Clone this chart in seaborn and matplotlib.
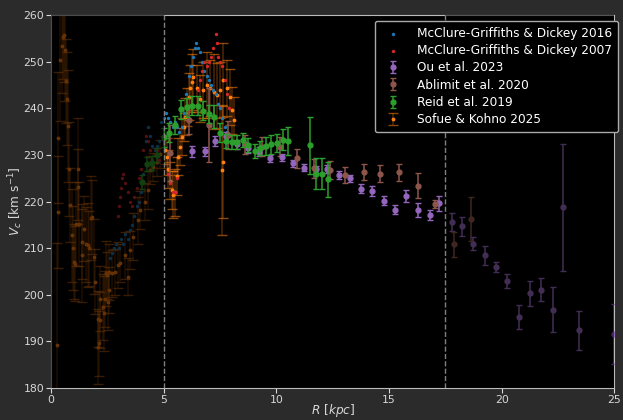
import numpy as np
import matplotlib
matplotlib.use("Agg")
import matplotlib.pyplot as plt
import seaborn as sns

# McClure-Griffiths & Dickey 2016 (terminal velocities)
mg16_r = [2.6, 2.7, 2.8, 2.9, 3.0, 3.1, 3.2, 3.3, 3.4, 3.5, 3.6, 3.7, 3.8, 3.9, 4.0,
          4.1, 4.2, 4.3, 4.4, 4.5, 4.6, 4.7, 4.8, 4.9, 5.0, 5.1, 5.2, 5.3, 5.4, 5.5,
          5.6, 5.7, 5.8, 5.9, 6.0, 6.1, 6.2, 6.3, 6.4, 6.45, 6.5, 6.6, 6.7, 6.8, 6.9,
          7.0, 7.1, 7.2, 7.3, 7.4, 7.5, 7.6, 7.7, 7.8, 7.9, 8.0]
mg16_v = [208, 209, 210, 211, 210, 212, 211, 213, 212, 214, 215, 217, 219, 220, 222,
          226, 233, 236, 234, 232, 231, 232, 233, 237, 238, 239, 238, 237, 236, 237,
          236, 235, 236, 239, 243, 247, 249, 251, 253, 254, 253, 252, 250, 248, 247,
          246, 245, 244, 243, 241, 240, 238, 236, 235, 234, 233]

# McClure-Griffiths & Dickey 2007
mg07_r = [2.95, 3.0, 3.05, 3.1, 3.15, 3.2, 3.3, 3.4, 3.5, 3.6, 3.7, 3.8, 3.9, 4.0,
          4.1, 4.2, 4.3, 4.4, 4.5, 4.6, 4.7, 4.8, 5.2, 5.3, 5.4, 5.5, 5.6, 6.5, 6.6,
          6.7, 6.8, 6.9, 7.0, 7.1, 7.2, 7.3, 7.35, 7.4, 7.5, 7.6, 7.7, 7.8, 7.9]
mg07_v = [217, 219, 221, 223, 225, 226, 224, 222, 220, 219, 221, 223, 225, 227,
          231, 234, 233, 231, 229, 230, 231, 229, 226, 224, 222, 222, 225, 244, 246,
          248, 250, 249, 250, 251, 253, 256, 254, 251, 250, 249, 246, 243, 240]

# Ou et al. 2023
ou_r = [6.26, 6.84, 7.28, 7.78, 8.26, 8.72, 9.24, 9.72, 10.24, 10.73, 11.23, 11.74,
        12.24, 12.76, 13.25, 13.75, 14.24, 14.76, 15.25, 15.74, 16.27, 16.8, 17.23,
        17.79, 18.26, 18.75, 19.24, 19.75, 20.23, 20.75, 21.24, 21.74, 22.3, 22.74,
        23.43, 25.0]
ou_v = [230.8, 230.8, 233.0, 234.0, 232.3, 231.4, 230.7, 229.3, 229.5, 228.2, 227.3,
        226.9, 227.0, 225.7, 225.0, 222.8, 222.3, 220.2, 218.3, 221.2, 218.3, 217.1,
        219.6, 215.6, 214.7, 211.0, 208.5, 206.0, 203.0, 195.2, 200.3, 201.1, 196.8,
        218.8, 192.4, 191.6]
ou_err = [1.2, 1.0, 1.0, 1.0, 1.0, 1.0, 1.0, 0.8, 0.8, 0.8, 0.8, 0.8, 0.8, 0.8,
          0.8, 0.9, 1.0, 0.9, 1.0, 1.3, 1.5, 1.0, 1.7, 2.0, 2.0, 1.3, 2.0, 1.0,
          1.5, 2.6, 2.7, 2.5, 4.8, 13.6, 4.2, 6.4]

# Ablimit et al. 2020
ab_r = [5.3, 6.1, 7.0, 7.87, 8.61, 9.36, 10.14, 10.91, 11.69, 12.36, 13.06, 13.9,
        14.62, 15.44, 16.28, 17.05, 17.9, 18.65]
ab_v = [230.5, 237.6, 236.4, 234.3, 232.3, 231.8, 231.8, 229.3, 227.1, 226.8, 225.7,
        226.4, 226.0, 226.3, 223.4, 219.5, 210.8, 216.2]
ab_err = [6.0, 3.0, 8.0, 3.0, 2.0, 2.0, 2.0, 2.0, 2.0, 2.0, 1.8, 1.7, 1.8, 1.8,
          2.7, 0.8, 2.7, 4.7]

# Reid et al. 2019
reid_r = [4.03, 4.25, 4.47, 4.69, 5.02, 5.25, 5.51, 5.76, 6.03, 6.27, 6.51, 6.76,
          7.03, 7.25, 7.5, 7.77, 8.02, 8.27, 8.51, 8.76, 9.03, 9.28, 9.53, 9.77,
          10.02, 10.29, 10.51, 11.5, 11.75, 12.02, 12.27]
reid_v = [224.1, 228.0, 228.2, 230.0, 233.8, 234.8, 236.4, 239.8, 240.2, 240.6, 240.6,
          239.5, 238.8, 238.2, 234.8, 233.0, 232.8, 232.8, 233.3, 232.1, 230.9, 231.6,
          231.9, 232.3, 232.6, 233.3, 233.0, 232.1, 226.0, 226.0, 224.8]
reid_err = [1.5, 1.5, 1.5, 1.5, 2.0, 2.0, 2.0, 2.0, 2.0, 2.0, 2.0, 2.0, 2.0, 2.5,
            2.0, 1.5, 1.5, 1.5, 1.5, 1.5, 1.5, 1.5, 2.0, 2.0, 2.0, 2.3, 3.1, 6.1,
            3.3, 3.3, 3.75]

# Sofue & Kohno 2025
sk_r = [0.27, 0.30, 0.30, 0.41, 0.47, 0.52, 0.56, 0.62, 0.67, 0.71, 0.77, 0.81, 0.86,
        0.92, 0.96, 1.01, 1.04, 1.11, 1.18, 1.21, 1.26, 1.36, 1.38, 1.48, 1.55, 1.63,
        1.70, 1.78, 1.82, 1.90, 1.97, 2.07, 2.07, 2.12, 2.19, 2.19, 2.29, 2.37, 2.40,
        2.44, 2.47, 2.52, 2.55, 2.59, 2.69, 2.84, 2.99, 3.06, 3.29, 3.43, 3.51, 3.65,
        3.88, 3.95, 4.17, 4.32, 4.40, 4.54, 4.69, 4.84, 5.06, 5.14, 5.21, 5.28, 5.36,
        5.43, 5.51, 5.58, 5.65, 5.73, 5.80, 5.88, 5.95, 6.03, 6.10, 6.17, 6.25, 6.32,
        6.47, 6.62, 6.76, 6.91, 7.06, 7.21, 7.36, 7.50, 7.58, 7.65, 7.65, 7.80, 7.95,
        8.02, 8.10]
sk_v = [189.2, 233.7, 217.8, 250.3, 253.4, 255.4, 255.7, 252.6, 245.9, 242.1, 236.3,
        227.0, 219.3, 212.8, 210.0, 207.1, 206.7, 215.1, 227.0, 223.2, 215.1, 211.4,
        208.5, 214.2, 210.8, 210.7, 210.0, 216.4, 216.7, 208.2, 202.8, 194.9, 188.9,
        189.6, 199.2, 194.6, 197.4, 196.0, 199.1, 204.6, 204.2, 198.4, 201.0, 205.0,
        204.6, 204.9, 206.4, 206.8, 208.5, 203.9, 209.6, 212.5, 216.0, 218.2, 220.0,
        222.5, 226.8, 227.5, 228.5, 230.3, 231.0, 229.6, 227.0, 224.5, 222.5, 221.5,
        222.0, 225.5, 229.6, 231.8, 233.9, 236.0, 238.2, 240.3, 242.5, 244.3, 245.7,
        246.8, 244.3, 242.1, 243.9, 245.0, 244.3, 243.6, 242.8, 243.9, 226.8, 228.5,
        246.1, 244.3, 242.5, 239.6, 237.5]
sk_err = [22, 14, 12, 13, 10, 9, 10, 11, 9, 10, 12, 10, 8, 10, 9, 8, 8, 9, 11, 8, 9,
          8, 10, 7, 8, 9, 8, 9, 8, 8, 7, 6, 8, 7, 7, 6, 7, 8, 6, 7, 5, 6, 5, 6, 5, 5,
          5, 4, 5, 4, 4, 5, 5, 4, 4, 4, 3, 3, 3, 3, 3, 4, 4, 4, 4, 5, 5, 4, 4, 4, 4,
          3, 4, 4, 5, 5, 6, 6, 5, 5, 6, 7, 6, 8, 7, 6, 14, 12, 8, 6, 6, 5, 5]

fig_bg = "#2b2b2b"
fg = "#d8d8d8"

plt.style.use("dark_background")
fig = plt.figure(figsize=(6.23, 4.2), dpi=100, facecolor=fig_bg)
ax = fig.add_axes([0.082, 0.076, 0.904, 0.888])
ax.set_facecolor("black")

# Sofue & Kohno (underneath everything)
sk = ax.errorbar(sk_r, sk_v, yerr=sk_err, fmt=".", color="tab:orange", ms=3.5,
                 ecolor="tab:orange", elinewidth=1.1, capsize=3.5, zorder=2,
                 label="Sofue & Kohno 2025")
for c in sk[1]:
    c.set_alpha(0.55)
for c in sk[2]:
    c.set_alpha(0.3)

sns.scatterplot(x=mg16_r, y=mg16_v, ax=ax, color="tab:blue", s=6, linewidth=0,
                zorder=3, label="McClure-Griffiths & Dickey 2016")
sns.scatterplot(x=mg07_r, y=mg07_v, ax=ax, color="tab:red", s=6, linewidth=0,
                zorder=3, label="McClure-Griffiths & Dickey 2007")

ax.errorbar(ou_r, ou_v, yerr=ou_err, fmt="o", color="tab:purple", ms=3.5,
            capsize=2.5, elinewidth=1.1, zorder=4, label="Ou et al. 2023")
ax.errorbar(ab_r, ab_v, yerr=ab_err, fmt="o", color="tab:brown", ms=3.5,
            capsize=2.5, elinewidth=1.1, zorder=4, label="Ablimit et al. 2020")
ax.errorbar(reid_r, reid_v, yerr=reid_err, fmt="o", color="tab:green", ms=3.5,
            capsize=2.5, elinewidth=1.1, zorder=5, label="Reid et al. 2019")

# dim regions outside the fit range
ax.axvspan(0, 5, color="black", alpha=0.6, lw=0, zorder=6)
ax.axvspan(17.5, 25, color="black", alpha=0.55, lw=0, zorder=6)
ax.axvline(5, color="gray", ls="--", lw=1, zorder=7)
ax.axvline(17.5, color="gray", ls="--", lw=1, zorder=7)

ax.set_xlim(0, 25)
ax.set_ylim(180, 260)
ax.set_xlabel("$R$ [$kpc$]", color=fg, fontsize=8.7, labelpad=-2)
ax.set_ylabel("$V_c$ [km s$^{-1}$]", color=fg, fontsize=8.7, labelpad=-1)
ax.tick_params(colors=fg, labelsize=7.8, length=3.5, pad=1.5)
for s in ax.spines.values():
    s.set_color("#bbbbbb")

handles, labels = ax.get_legend_handles_labels()
order = ["McClure-Griffiths & Dickey 2016", "McClure-Griffiths & Dickey 2007",
         "Ou et al. 2023", "Ablimit et al. 2020", "Reid et al. 2019", "Sofue & Kohno 2025"]
hmap = dict(zip(labels, handles))
leg = ax.legend([hmap[k] for k in order], order, loc="upper right",
                bbox_to_anchor=(1.0066, 0.9847), borderaxespad=0, fontsize=8.7,
                labelspacing=0.35, borderpad=0.5, handletextpad=1.0,
                facecolor="black", edgecolor="#aaaaaa", framealpha=1)
leg.set_zorder(10)
for t in leg.get_texts():
    t.set_color("white")

fig.savefig("out.png", dpi=100, facecolor=fig_bg)
